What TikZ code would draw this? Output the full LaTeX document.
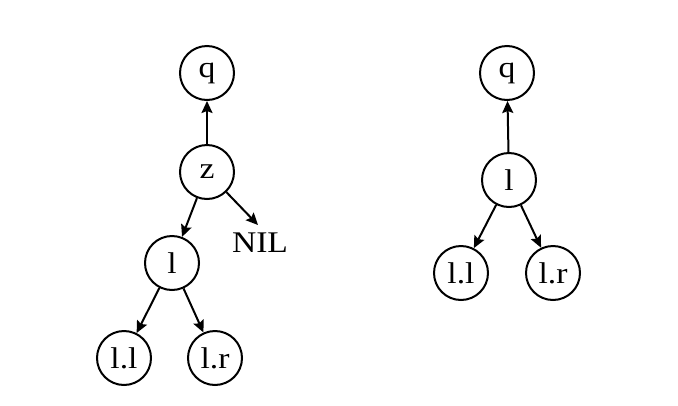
\documentclass[tikz,border=0pt]{standalone}
\usepackage{fontspec}
\setmainfont{Liberation Serif}[FakeStretch=1.12]
\usetikzlibrary{arrows.meta}
\begin{document}
\begin{tikzpicture}[x=1pt,y=-1pt,
  treenode/.style={circle,draw,line width=2pt,minimum size=54pt,inner sep=0pt,font=\fontsize{30}{34}\selectfont},
  edge/.style={line width=2pt,-{Stealth[length=12pt,width=11pt,inset=2pt]}},
  label/.style={font=\fontsize{30}{34}\selectfont}]
\useasboundingbox (0,0) rectangle (678,405);
% left tree: before the rotation
\node[treenode] (q1) at (207,73) {q};
\node[treenode] (z) at (207,172) {z};
\node[treenode] (l1) at (172,263) {l};
\node[treenode] (ll1) at (124,358) {l.l};
\node[treenode] (lr1) at (215,358) {l.r};
\node[label] (nil) at (260,243) {NIL};
\coordinate (nilend) at (258,225);
\draw[edge] (z) -- (q1);
\draw[edge] (z) -- (l1);
\draw[edge] (z) -- (nilend);
\draw[edge] (l1) -- (ll1);
\draw[edge] (l1) -- (lr1);
% right tree: after the rotation
\node[treenode] (q2) at (507,73) {q};
\node[treenode] (l2) at (509,180) {l};
\node[treenode] (ll2) at (461,273) {l.l};
\node[treenode] (lr2) at (553,273) {l.r};
\draw[edge] (l2) -- (q2);
\draw[edge] (l2) -- (ll2);
\draw[edge] (l2) -- (lr2);
\end{tikzpicture}
\end{document}
